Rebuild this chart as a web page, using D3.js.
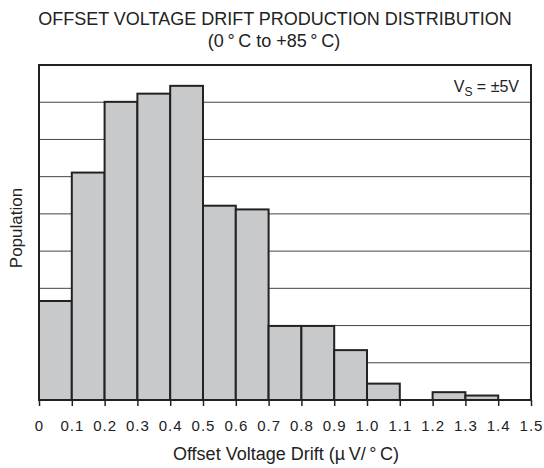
<!DOCTYPE html>
<html>
<head>
<meta charset="utf-8">
<script src="https://cdn.jsdelivr.net/npm/d3@7"></script>
<style>
    body { margin: 0; background: #fff; }
    svg { display: block; font-family: "Liberation Sans", Arial, sans-serif; }
</style>
</head>
<body>
<div id="chart"></div>
<script>
// Histogram bins (uV/C) and relative population (in gridline units)
const binStarts = [0, 0.1, 0.2, 0.3, 0.4, 0.5, 0.6, 0.7, 0.8, 0.9, 1.0, 1.1, 1.2, 1.3, 1.4];
const population = [2.66, 6.11, 8.01, 8.23, 8.44, 5.22, 5.12, 1.99, 1.99, 1.34, 0.44, 0, 0.21, 0.12, 0];
const xTicks = [0, 0.1, 0.2, 0.3, 0.4, 0.5, 0.6, 0.7, 0.8, 0.9, 1.0, 1.1, 1.2, 1.3, 1.4, 1.5];
const yGrid = [1, 2, 3, 4, 5, 6, 7, 8];
const binWidth = 0.1;

drawHistogram();

function drawHistogram() {
    const width = 544;
    const height = 468;
    const margin = { top: 65, right: 13, bottom: 68, left: 39 };
    const innerW = width - margin.left - margin.right;
    const innerH = height - margin.top - margin.bottom;

    const svg = d3.select('#chart')
        .append('svg')
        .attr('width', width)
        .attr('height', height);

    // Title
    svg.append('text')
        .attr('x', 275)
        .attr('y', 25)
        .attr('text-anchor', 'middle')
        .style('font-size', '18px')
        .style('fill', '#222')
        .text('OFFSET VOLTAGE DRIFT PRODUCTION DISTRIBUTION');

    svg.append('text')
        .attr('x', 274)
        .attr('y', 47)
        .attr('text-anchor', 'middle')
        .style('font-size', '18px')
        .style('fill', '#222')
        .text('(0\u2009°\u2009C to +85\u2009°\u2009C)');

    const g = svg.append('g')
        .attr('transform', `translate(${margin.left}, ${margin.top})`);

    const x = d3.scaleLinear()
        .domain([0, 1.5])
        .range([0, innerW]);

    const y = d3.scaleLinear()
        .domain([0, 9])
        .range([innerH, 0]);

    // Gridlines
    g.selectAll('.grid')
        .data(yGrid)
        .enter()
        .append('line')
        .attr('class', 'grid')
        .attr('x1', 0)
        .attr('x2', innerW)
        .attr('y1', d => y(d))
        .attr('y2', d => y(d))
        .attr('stroke', '#444')
        .attr('stroke-width', 1);

    // Bars
    const bars = binStarts.map((b, i) => ({ start: b, value: population[i] }))
        .filter(d => d.value > 0);

    g.selectAll('.bar')
        .data(bars)
        .enter()
        .append('rect')
        .attr('class', 'bar')
        .attr('x', d => x(d.start))
        .attr('y', d => y(d.value))
        .attr('width', d => x(d.start + binWidth) - x(d.start))
        .attr('height', d => innerH - y(d.value))
        .attr('fill', '#c8c9cb')
        .attr('stroke', '#222')
        .attr('stroke-width', 2);

    // Frame
    g.append('rect')
        .attr('x', 0)
        .attr('y', 0)
        .attr('width', innerW)
        .attr('height', innerH)
        .attr('fill', 'none')
        .attr('stroke', '#222')
        .attr('stroke-width', 2);

    // X axis
    const xAxis = g.append('g')
        .attr('transform', `translate(0, ${innerH})`)
        .call(d3.axisBottom(x)
            .tickValues(xTicks)
            .tickSize(6)
            .tickPadding(14)
            .tickFormat(d => d === 0 ? '0' : d3.format('.1f')(d)));

    xAxis.select('.domain').remove();
    xAxis.selectAll('.tick line')
        .attr('stroke', '#222')
        .attr('stroke-width', 1.5);
    xAxis.selectAll('.tick text')
        .style('font-size', '15px')
        .style('font-family', '"Liberation Sans", Arial, sans-serif')
        .style('letter-spacing', '1px')
        .attr('fill', '#222');

    // Annotation V_S = ±5V
    const note = g.append('text')
        .attr('x', innerW - 12)
        .attr('y', 27)
        .attr('text-anchor', 'end')
        .style('font-size', '16px')
        .style('fill', '#222');
    note.append('tspan').text('V');
    note.append('tspan').attr('dy', 4).style('font-size', '12px').text('S');
    note.append('tspan').attr('dy', -4).text(' = ±5V');

    // Axis labels
    svg.append('text')
        .attr('transform', `translate(22, 228) rotate(-90)`)
        .attr('text-anchor', 'middle')
        .style('font-size', '17px')
        .style('fill', '#222')
        .text('Population');

    svg.append('text')
        .attr('x', 286)
        .attr('y', 460)
        .attr('text-anchor', 'middle')
        .style('font-size', '18px')
        .style('fill', '#222')
        .text('Offset Voltage Drift (µ\u2009V/\u2009°\u2009C)');
}
</script>
</body>
</html>
